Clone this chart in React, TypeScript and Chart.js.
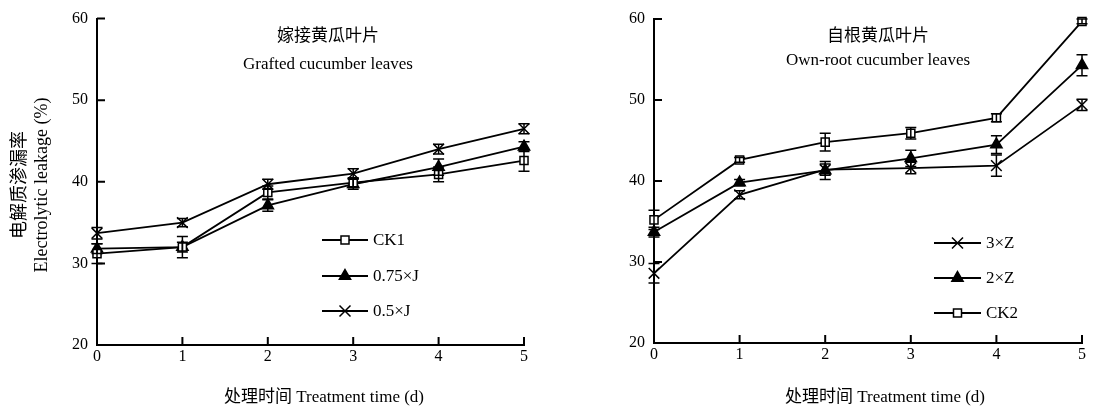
import React, { useEffect, useRef } from 'react';
import { Chart, registerables } from 'chart.js';

Chart.register(...registerables);

// ---------- data ----------
const days = [0, 1, 2, 3, 4, 5];
const yTicks = [20, 30, 40, 50, 60];

// Grafted cucumber leaves
const ck1 = [31.2, 32.0, 38.7, 39.9, 40.9, 42.6];
const ck1Err = [1.2, 1.3, 0.8, 0.6, 0.9, 1.3];
const j075 = [31.8, 32.0, 37.1, 39.7, 41.8, 44.3];
const j075Err = [0.6, 0.6, 0.7, 0.6, 1.0, 0.6];
const j05 = [33.7, 35.0, 39.7, 41.0, 44.0, 46.5];
const j05Err = [0.7, 0.5, 0.6, 0.6, 0.6, 0.6];

// Own-root cucumber leaves
const z3 = [28.6, 38.3, 41.4, 41.6, 41.9, 49.4];
const z3Err = [1.2, 0.5, 0.7, 0.7, 1.3, 0.7];
const z2 = [33.7, 39.8, 41.3, 42.8, 44.5, 54.3];
const z2Err = [0.6, 0.4, 1.1, 1.0, 1.1, 1.3];
const ck2 = [35.2, 42.6, 44.8, 45.9, 47.8, 59.7];
const ck2Err = [1.2, 0.3, 1.1, 0.7, 0.5, 0.3];

const FONT = '"Liberation Serif", "Times New Roman", "Noto Sans CJK SC", serif';

type Marker = 'rect' | 'triangle' | 'crossRot';
type Series = { label: string; values: number[]; err: number[]; marker: Marker };

const leftSeries: Series[] = [
  { label: 'CK1', values: ck1, err: ck1Err, marker: 'rect' },
  { label: '0.75×J', values: j075, err: j075Err, marker: 'triangle' },
  { label: '0.5×J', values: j05, err: j05Err, marker: 'crossRot' },
];
const rightSeries: Series[] = [
  { label: '3×Z', values: z3, err: z3Err, marker: 'crossRot' },
  { label: '2×Z', values: z2, err: z2Err, marker: 'triangle' },
  { label: 'CK2', values: ck2, err: ck2Err, marker: 'rect' },
];

function drawMarker(ctx: CanvasRenderingContext2D, m: Marker, x: number, y: number) {
  ctx.save();
  ctx.strokeStyle = '#000';
  ctx.lineWidth = 1.5;
  if (m === 'rect') {
    const s = 4;
    ctx.fillStyle = '#fff';
    ctx.fillRect(x - s, y - s, 2 * s, 2 * s);
    ctx.strokeRect(x - s, y - s, 2 * s, 2 * s);
  } else if (m === 'triangle') {
    const r = 6.5;
    ctx.fillStyle = '#000';
    ctx.beginPath();
    ctx.moveTo(x, y - r);
    ctx.lineTo(x + r * 0.866, y + r * 0.5);
    ctx.lineTo(x - r * 0.866, y + r * 0.5);
    ctx.closePath();
    ctx.fill();
    ctx.stroke();
  } else {
    const d = 5.5;
    ctx.beginPath();
    ctx.moveTo(x - d, y - d);
    ctx.lineTo(x + d, y + d);
    ctx.moveTo(x + d, y - d);
    ctx.lineTo(x - d, y + d);
    ctx.stroke();
  }
  ctx.restore();
}

const overlay = {
  id: 'overlay',
  afterDatasetsDraw(chart: any) {
    const ctx: CanvasRenderingContext2D = chart.ctx;
    const xs = chart.scales.x;
    const ys = chart.scales.y;
    ctx.save();
    ctx.strokeStyle = '#000';
    ctx.lineWidth = 1.5;
    chart.data.datasets.forEach((ds: any) => {
      ds.data.forEach((p: any, i: number) => {
        const e = ds.err[i];
        const px = xs.getPixelForValue(p.x);
        const t = ys.getPixelForValue(p.y + e);
        const b = ys.getPixelForValue(p.y - e);
        ctx.beginPath();
        ctx.moveTo(px, t);
        ctx.lineTo(px, b);
        ctx.moveTo(px - 5.5, t);
        ctx.lineTo(px + 5.5, t);
        ctx.moveTo(px - 5.5, b);
        ctx.lineTo(px + 5.5, b);
        ctx.stroke();
      });
    });
    ctx.restore();
  },
  afterDraw(chart: any, _args: any, o: any) {
    const ctx: CanvasRenderingContext2D = chart.ctx;
    const xs = chart.scales.x;
    const ys = chart.scales.y;
    const area = chart.chartArea;
    ctx.save();
    ctx.strokeStyle = '#000';
    ctx.lineWidth = 2;
    // inward tick marks
    ctx.beginPath();
    days.forEach((d) => {
      if (d === 0) return;
      const px = xs.getPixelForValue(d);
      ctx.moveTo(px, area.bottom);
      ctx.lineTo(px, area.bottom - 8);
    });
    yTicks.forEach((v) => {
      if (v === 20) return;
      const py = ys.getPixelForValue(v);
      ctx.moveTo(area.left, py);
      ctx.lineTo(area.left + 8, py);
    });
    ctx.stroke();

    ctx.fillStyle = '#000';
    ctx.textAlign = 'center';
    ctx.textBaseline = 'middle';
    ctx.font = `17px ${FONT}`;
    // panel titles
    o.titles.forEach((t: any) => ctx.fillText(t.text, t.x, t.y));
    // x title
    ctx.fillText(o.xTitle.text, o.xTitle.x, o.xTitle.y);
    // y title
    if (o.yTitle) {
      ctx.font = `18px ${FONT}`;
      o.yTitle.lines.forEach((l: any) => {
        ctx.save();
        ctx.translate(l.x, o.yTitle.y);
        ctx.rotate(-Math.PI / 2);
        ctx.fillText(l.text, 0, 0);
        ctx.restore();
      });
    }
    // legend
    const lg = o.legend;
    ctx.textAlign = 'left';
    ctx.font = `17px ${FONT}`;
    lg.rows.forEach((r: any) => {
      ctx.lineWidth = 1.8;
      ctx.beginPath();
      ctx.moveTo(lg.x1, r.y);
      ctx.lineTo(lg.x2, r.y);
      ctx.stroke();
      drawMarker(ctx, r.marker, (lg.x1 + lg.x2) / 2, r.y);
      ctx.fillText(r.label, lg.x2 + 5, r.y + 1);
    });
    ctx.restore();
  },
};

function buildConfig(series: Series[], geo: any, extra: any): any {
  return {
    type: 'line',
    data: {
      datasets: series.map((s) => ({
        label: s.label,
        data: days.map((d, i) => ({ x: d, y: s.values[i] })),
        err: s.err,
        borderColor: '#000',
        borderWidth: 1.8,
        pointStyle: s.marker,
        pointRadius: s.marker === 'rect' ? 5.7 : s.marker === 'triangle' ? 6.5 : 7.5,
        pointBackgroundColor: s.marker === 'rect' ? '#fff' : '#000',
        pointBorderColor: '#000',
        pointBorderWidth: 1.5,
        tension: 0,
        clip: false,
        fill: false,
      })),
    },
    options: {
      responsive: false,
      animation: false,
      devicePixelRatio: 1,
      layout: { padding: { left: 0, top: geo.top, right: geo.right, bottom: 0 } },
      plugins: {
        legend: { display: false },
        tooltip: { enabled: false },
        overlay: extra,
      },
      scales: {
        x: {
          type: 'linear',
          min: 0,
          max: 5,
          afterFit: (s: any) => { s.height = geo.xHeight; },
          afterBuildTicks: (s: any) => { s.ticks = days.map((v) => ({ value: v })); },
          grid: { display: false, drawTicks: false },
          border: { display: true, color: '#000', width: 2 },
          ticks: { color: '#000', padding: 2, font: { family: FONT, size: 16 } },
        },
        y: {
          type: 'linear',
          min: 20,
          max: 60,
          afterFit: (s: any) => { s.width = geo.left; },
          afterBuildTicks: (s: any) => { s.ticks = yTicks.map((v) => ({ value: v })); },
          grid: { display: false, drawTicks: false },
          border: { display: true, color: '#000', width: 2 },
          ticks: { color: '#000', padding: 9, font: { family: FONT, size: 16 } },
        },
      },
    },
    plugins: [overlay],
  };
}

function Panel(props: { width: number; left: number; series: Series[]; geo: any; extra: any }) {
  const ref = useRef<HTMLCanvasElement>(null);
  useEffect(() => {
    if (!ref.current) return;
    const chart = new Chart(ref.current, buildConfig(props.series, props.geo, props.extra));
    return () => chart.destroy();
  }, []);
  return (
    <canvas
      ref={ref}
      width={props.width}
      height={409}
      style={{ position: 'absolute', left: props.left, top: 0, width: props.width, height: 409 }}
    />
  );
}

export default function App() {
  return (
    <div style={{ position: 'absolute', left: 0, top: 0, width: 1116, height: 409, background: '#fff' }}>
      <Panel
        width={560}
        left={0}
        series={leftSeries}
        geo={{ left: 97, top: 16, right: 36, xHeight: 64 }}
        extra={{
          titles: [
            { text: '嫁接黄瓜叶片', x: 328, y: 37 },
            { text: 'Grafted cucumber leaves', x: 328, y: 65 },
          ],
          xTitle: { text: '处理时间 Treatment time (d)', x: 324, y: 398 },
          yTitle: {
            y: 185,
            lines: [
              { text: '电解质渗漏率', x: 20 },
              { text: 'Electrolytic leakage (%)', x: 42 },
            ],
          },
          legend: {
            x1: 322,
            x2: 368,
            rows: [
              { y: 240, label: 'CK1', marker: 'rect' },
              { y: 276, label: '0.75×J', marker: 'triangle' },
              { y: 311, label: '0.5×J', marker: 'crossRot' },
            ],
          },
        }}
      />
      <Panel
        width={556}
        left={560}
        series={rightSeries}
        geo={{ left: 94, top: 19, right: 34, xHeight: 66 }}
        extra={{
          titles: [
            { text: '自根黄瓜叶片', x: 318, y: 37 },
            { text: 'Own-root cucumber leaves', x: 318, y: 61 },
          ],
          xTitle: { text: '处理时间 Treatment time (d)', x: 325, y: 398 },
          yTitle: null,
          legend: {
            x1: 374,
            x2: 421,
            rows: [
              { y: 243, label: '3×Z', marker: 'crossRot' },
              { y: 278, label: '2×Z', marker: 'triangle' },
              { y: 313, label: 'CK2', marker: 'rect' },
            ],
          },
        }}
      />
    </div>
  );
}
